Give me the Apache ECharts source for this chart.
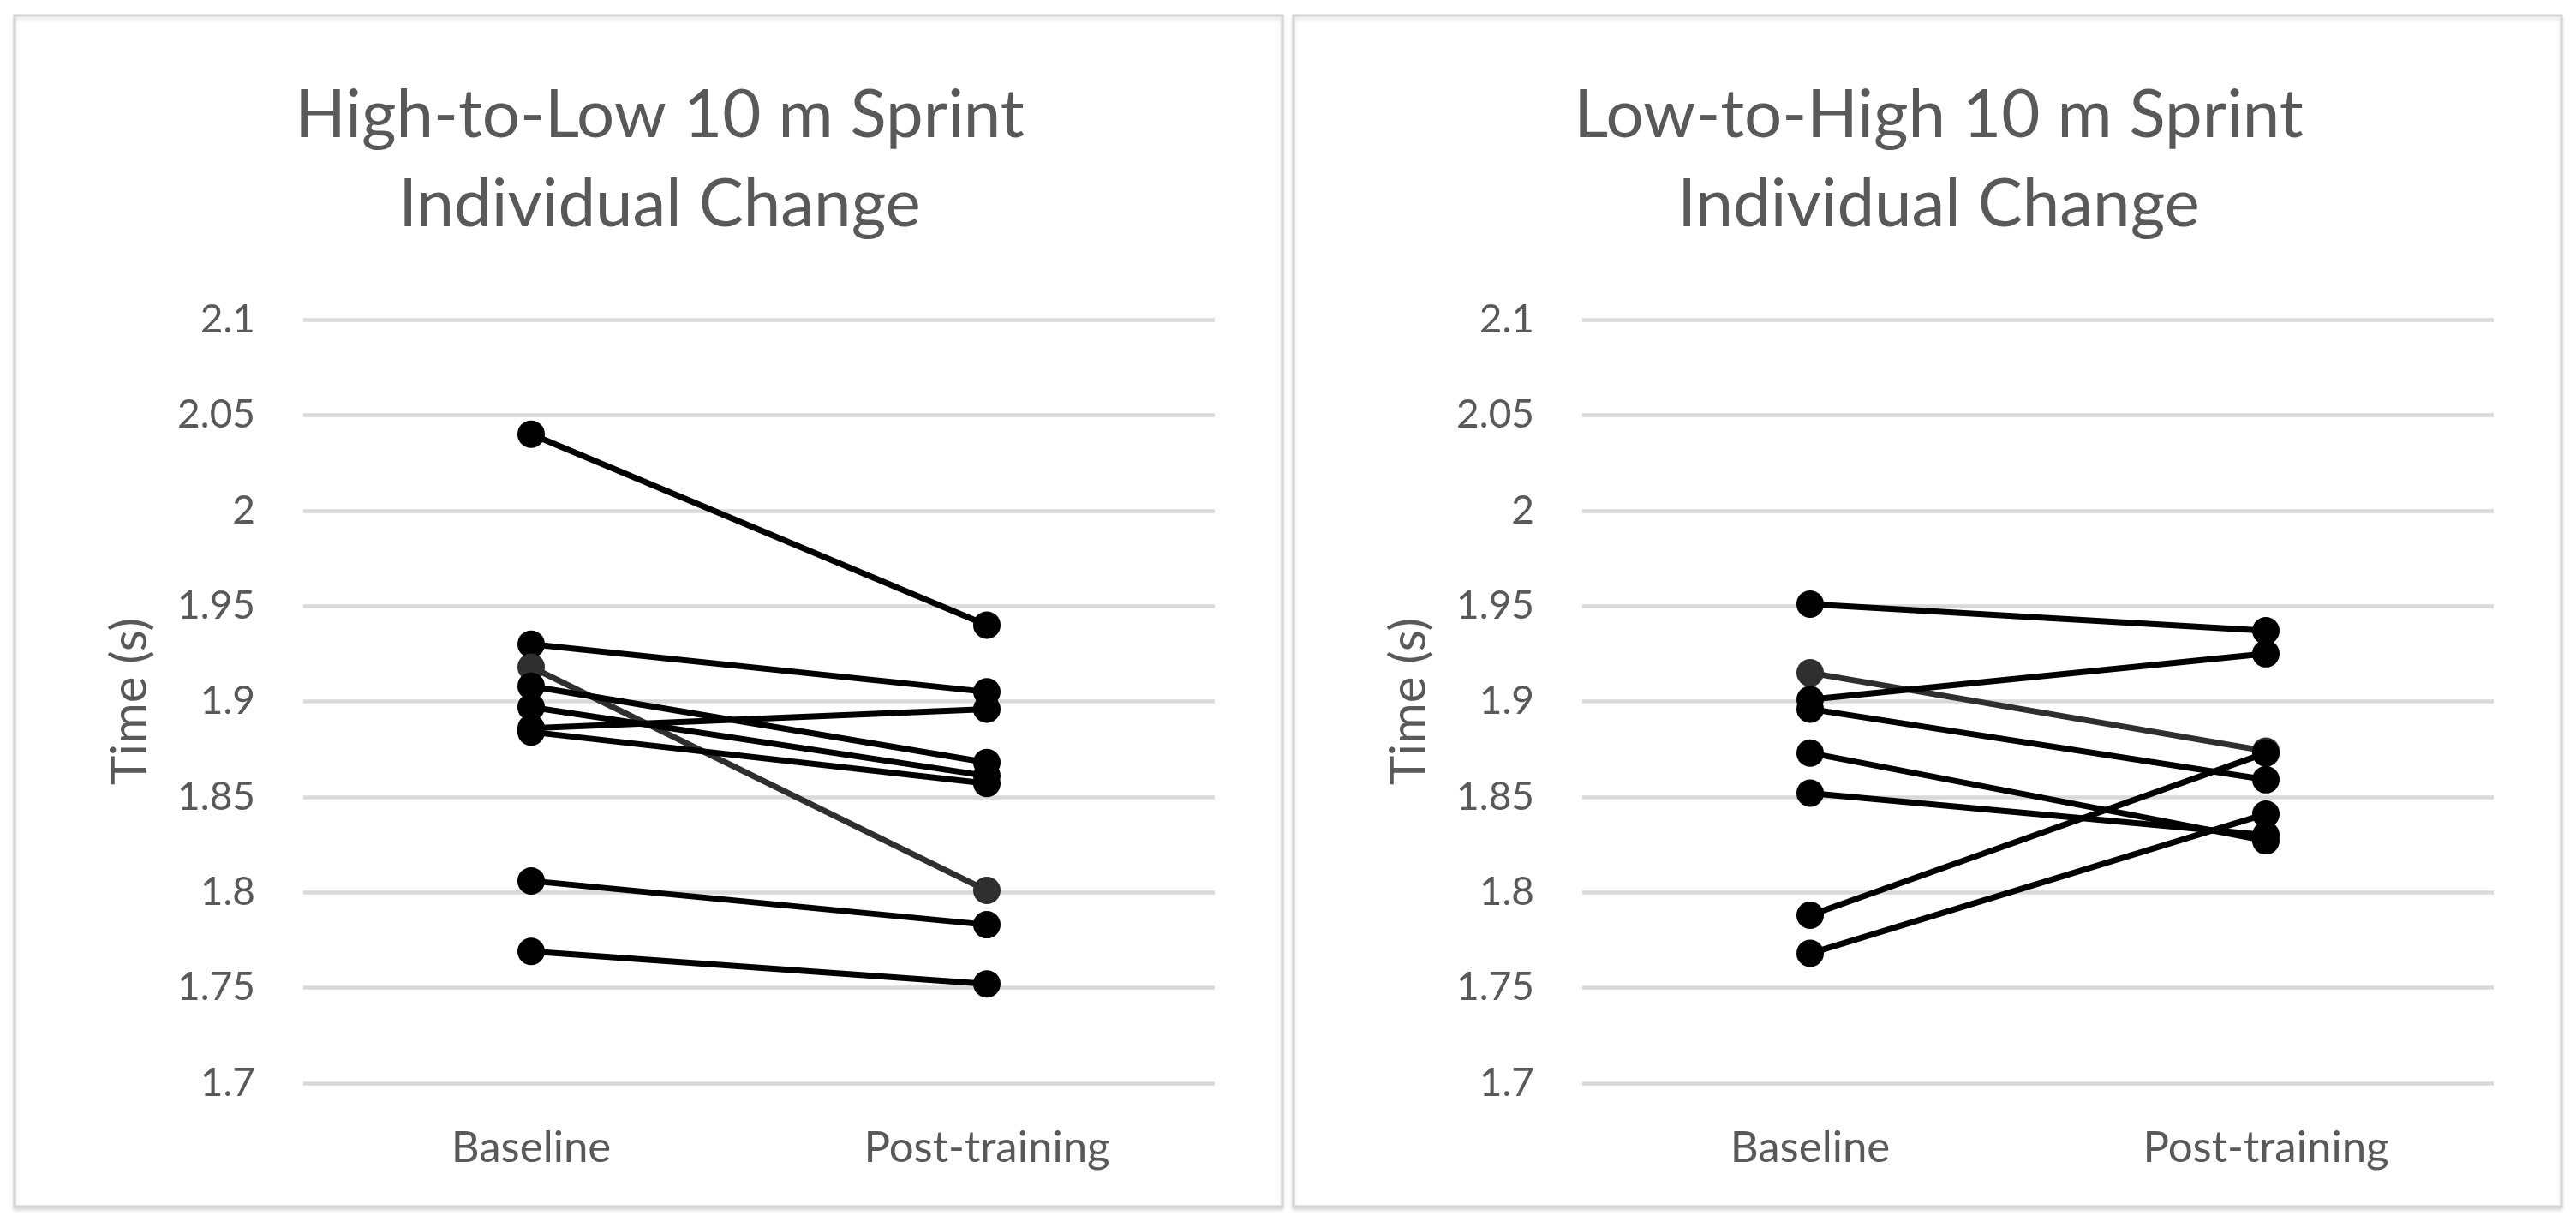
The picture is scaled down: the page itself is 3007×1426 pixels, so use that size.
<!DOCTYPE html>
<html>
<head>
<meta charset="utf-8">
<script src="https://cdn.jsdelivr.net/npm/echarts@6/dist/echarts.min.js"></script>
<style>
  html, body { margin: 0; padding: 0; background: #ffffff; }
  #chart { width: 3007px; height: 1426px; }
</style>
</head>
<body>
<div id="chart"></div>
<script>
// ---- data ----
const categories = ['Baseline', 'Post-training'];
const titles = ['High-to-Low 10 m Sprint\nIndividual Change', 'Low-to-High 10 m Sprint\nIndividual Change'];
const yAxisName = 'Time (s)';
const yMin = 1.7;
const yMax = 2.1;
const yInterval = 0.05;

// High-to-Low group: one entry per participant
const hlBaseline = [2.040, 1.930, 1.918, 1.908, 1.897, 1.886, 1.884, 1.806, 1.769];
const hlPost     = [1.940, 1.905, 1.801, 1.868, 1.861, 1.896, 1.857, 1.783, 1.752];

// Low-to-High group
const lhBaseline = [1.951, 1.915, 1.901, 1.896, 1.873, 1.852, 1.788, 1.768];
const lhPost     = [1.937, 1.874, 1.925, 1.859, 1.827, 1.830, 1.873, 1.841];

// ---- layout / style ----
const TEXT = '#595959';
const FONT = 'Lato';
const panels = [
  { x: 17, titleX: 765, gridLeft: 354 },
  { x: 1510, titleX: 2258, gridLeft: 1847 }
];
const darkIdx = [2, 1]; // slightly lighter series in each panel

const chart = echarts.init(document.getElementById('chart'), null, { renderer: 'canvas' });

const grids = [], xAxes = [], yAxes = [], series = [], titleArr = [], graphics = [];

panels.forEach((p, k) => {
  graphics.push({
    type: 'rect',
    shape: { x: p.x, y: 18, width: 1480, height: 1390 },
    style: { fill: '#ffffff', stroke: '#d4d4d4', lineWidth: 3, shadowColor: 'rgba(0,0,0,0.12)', shadowBlur: 4, shadowOffsetY: 3 },
    z: -10
  });
  titleArr.push({
    text: titles[k],
    left: p.titleX,
    top: 78,
    textAlign: 'center',
    textStyle: { fontFamily: FONT, fontSize: 78, fontWeight: 'normal', color: TEXT, lineHeight: 104 }
  });
  grids.push({ left: p.gridLeft, top: 373, width: 1064, height: 891 });
  xAxes.push({
    type: 'category', gridIndex: k, data: categories, boundaryGap: true,
    axisLine: { show: false }, axisTick: { show: false },
    axisLabel: { fontFamily: FONT, fontSize: 51, color: TEXT, margin: 50 }
  });
  yAxes.push({
    type: 'value', gridIndex: k, min: yMin, max: yMax, interval: yInterval,
    name: yAxisName, nameLocation: 'middle', nameGap: 173, nameRotate: 90,
    nameTextStyle: { fontFamily: FONT, fontSize: 58, color: TEXT },
    axisLine: { show: false }, axisTick: { show: false },
    axisLabel: { fontFamily: FONT, fontSize: 46, color: TEXT, margin: 56 },
    splitLine: { show: true, lineStyle: { color: '#d9d9d9', width: 4.5 } }
  });
  const base = k === 0 ? hlBaseline : lhBaseline;
  const post = k === 0 ? hlPost : lhPost;
  base.forEach((b, i) => {
    const c = (i === darkIdx[k]) ? '#2f2f2f' : '#000000';
    series.push({
      type: 'line', xAxisIndex: k, yAxisIndex: k,
      data: [b, post[i]],
      symbol: 'circle', symbolSize: 32,
      lineStyle: { color: c, width: 7 },
      itemStyle: { color: c },
      animation: false
    });
  });
});

chart.setOption({
  backgroundColor: '#ffffff',
  animation: false,
  title: titleArr,
  grid: grids,
  xAxis: xAxes,
  yAxis: yAxes,
  series: series,
  graphic: graphics
});
</script>
</body>
</html>
